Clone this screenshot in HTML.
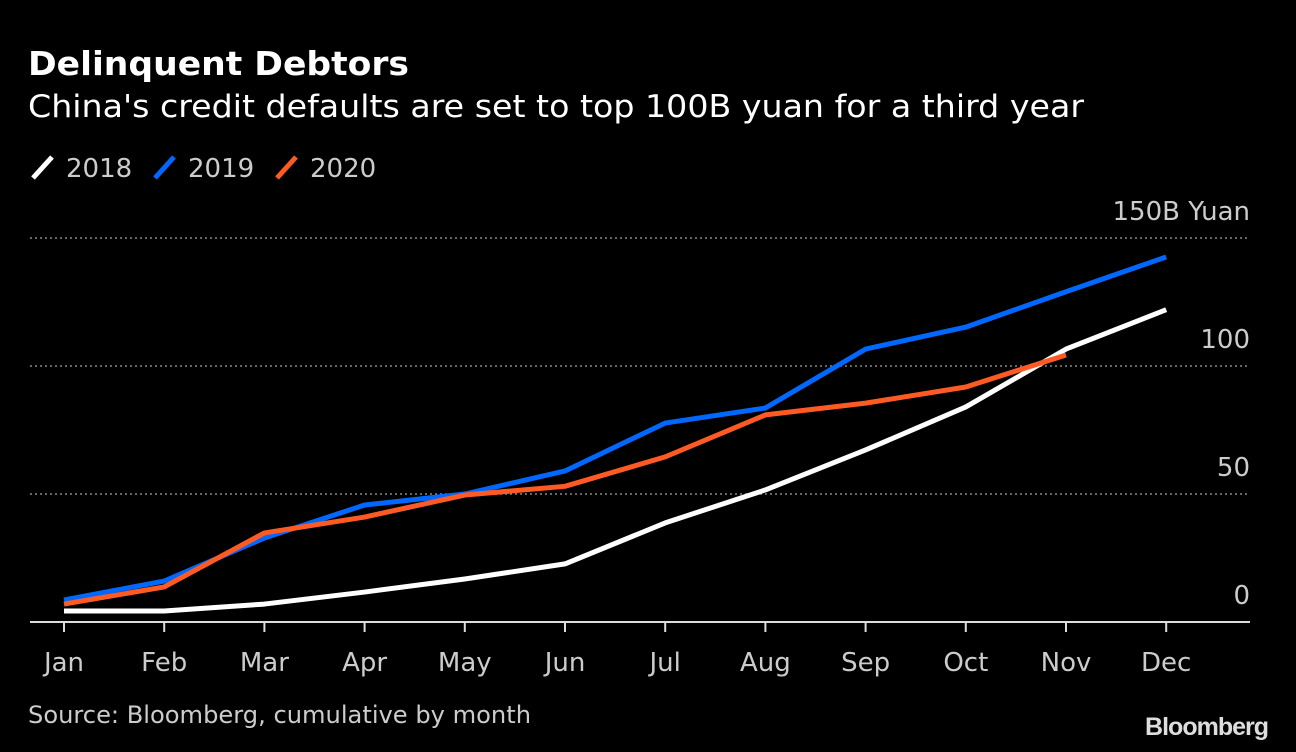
<!DOCTYPE html>
<html><head><meta charset="utf-8"><style>
body{margin:0;background:#000;width:1296px;height:752px;overflow:hidden;font-family:"DejaVu Sans","Liberation Sans",sans-serif;}
svg{display:block}
</style></head><body>
<svg id="c" width="1296" height="752">
<text x="28" y="75" fill="#fff" font-size="33" font-weight="bold" textLength="381" lengthAdjust="spacingAndGlyphs">Delinquent Debtors</text>
<text x="28" y="117" fill="#fff" font-size="31" textLength="1056" lengthAdjust="spacingAndGlyphs">China's credit defaults are set to top 100B yuan for a third year</text>
<g>
<g><line x1="33" y1="178" x2="52" y2="157" stroke="#fff" stroke-width="5"/><text x="66" y="177" fill="#ccc" font-size="26">2018</text></g>
<g><line x1="155" y1="178" x2="174" y2="157" stroke="#0068ff" stroke-width="5"/><text x="188" y="177" fill="#ccc" font-size="26">2019</text></g>
<g><line x1="277" y1="178" x2="296" y2="157" stroke="#ff5a23" stroke-width="5"/><text x="310" y="177" fill="#ccc" font-size="26">2020</text></g>
</g>
<text x="28" y="723" fill="#ccc" font-size="24" textLength="503" lengthAdjust="spacingAndGlyphs">Source: Bloomberg, cumulative by month</text>
<text x="1268" y="735" fill="#ddd" font-size="25" font-weight="bold" text-anchor="end" font-family="Liberation Sans,sans-serif" letter-spacing="-1">Bloomberg</text>
<g id="plot"></g>
</svg>
<script>
const months=["Jan","Feb","Mar","Apr","May","Jun","Jul","Aug","Sep","Oct","Nov","Dec"];
const yTicks=[0,50,100,150];
const yTickLabels=["0","50","100","150B Yuan"];
const s2018=[4.3,4.3,7,11.7,16.8,22.7,38.7,51.6,67.2,84,106.6,122];
const s2019=[8.6,16,32.8,45.7,50,59,77.7,83.6,106.6,115.2,129,142.6];
const s2020=[7,13.7,34.8,41,49.6,53,64.5,80.9,85.5,91.8,104.3];
const X=i=>64+i*100.2, Y=v=>622-v*2.56;
const ns="http://www.w3.org/2000/svg", g=document.getElementById('plot');
function mk(t,a){const e=document.createElementNS(ns,t);for(const k in a)e.setAttribute(k,a[k]);g.appendChild(e);return e;}
yTicks.forEach((v,i)=>{
 if(v>0){const l=mk('line',{x1:30,x2:1250,y1:Y(v),y2:Y(v),stroke:'#888','stroke-width':1.5,'stroke-dasharray':'2,3'});
 
 }
 const t=mk('text',{x:1250,y:Y(v)-18,fill:'#ccc','font-size':26,'text-anchor':'end'});t.textContent=yTickLabels[i];
 
 
});
const ax=mk('line',{x1:30,x2:1250,y1:622,y2:622,stroke:'#ddd','stroke-width':2});


months.forEach((m,i)=>{
 const tk=mk('line',{x1:X(i),x2:X(i),y1:622,y2:632,stroke:'#ddd','stroke-width':2});
 
 
 const t=mk('text',{x:X(i),y:671,fill:'#ccc','font-size':26,'text-anchor':'middle'});t.textContent=m;
 
 
});
[[s2018,'#fff','2018'],[s2019,'#0068ff','2019'],[s2020,'#ff5a23','2020']].forEach(([d,c,n])=>{
 const p=mk('polyline',{points:d.map((v,i)=>X(i)+','+Y(v)).join(' '),fill:'none',stroke:c,'stroke-width':5,'stroke-linejoin':'round'});
 
 
});
</script>
</body></html>
